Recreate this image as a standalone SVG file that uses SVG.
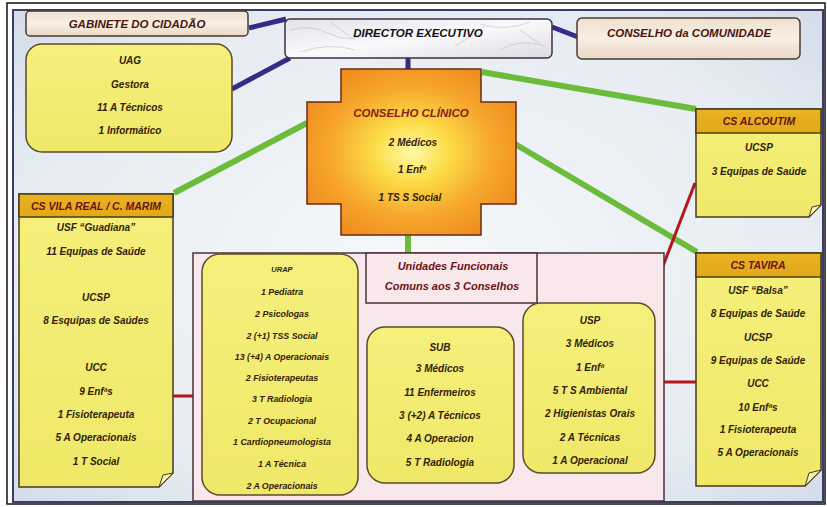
<svg xmlns="http://www.w3.org/2000/svg" width="827" height="507" viewBox="0 0 827 507">
  <style>
    text { font-family: "Liberation Sans", Arial, "DejaVu Sans", sans-serif; font-weight: bold; font-style: italic; text-anchor: middle; }
    .title { font-size: 11.5px; fill: #4a160e; }
    .hdr { font-size: 10.5px; fill: #6b1212; }
    .body { font-size: 10px; fill: #32220c; }
    .small { font-size: 8.8px; fill: #32220c; }
    .note { stroke: #4a3a1a; stroke-width: 1.5; }
    .blue { stroke: #3a2a88; stroke-width: 5; fill: none; }
    .green { stroke: #6cbc3c; stroke-width: 6; fill: none; }
    .red { stroke: #b0181c; stroke-width: 3; fill: none; }
  </style>
  <defs>
    <radialGradient id="panelBg" cx="0.5" cy="0.5" r="0.7">
      <stop offset="0" stop-color="#f6f8fa"/>
      <stop offset="0.7" stop-color="#e6ecf2"/>
      <stop offset="1" stop-color="#d3dde9"/>
    </radialGradient>
    <linearGradient id="beige" x1="0" y1="0" x2="0" y2="1">
      <stop offset="0" stop-color="#efe0cf"/>
      <stop offset="0.5" stop-color="#f8efe4"/>
      <stop offset="1" stop-color="#ead8c4"/>
    </linearGradient>
    <linearGradient id="marble" x1="0" y1="0" x2="1" y2="1">
      <stop offset="0" stop-color="#e4e2e8"/>
      <stop offset="0.5" stop-color="#faf9fb"/>
      <stop offset="1" stop-color="#dddbe2"/>
    </linearGradient>
    <radialGradient id="crossFill" cx="0.5" cy="0.5" r="0.6">
      <stop offset="0" stop-color="#fffaa8"/>
      <stop offset="0.3" stop-color="#fcdc48"/>
      <stop offset="0.65" stop-color="#f6a72c"/>
      <stop offset="1" stop-color="#ef8a1e"/>
    </radialGradient>
    <linearGradient id="noteBody" x1="0" y1="0" x2="0" y2="1">
      <stop offset="0" stop-color="#f5f07c"/>
      <stop offset="1" stop-color="#efe868"/>
    </linearGradient>
    <linearGradient id="noteHead" x1="0" y1="0" x2="0" y2="1">
      <stop offset="0" stop-color="#e8b324"/>
      <stop offset="1" stop-color="#e2a818"/>
    </linearGradient>
    <clipPath id="dirClip">
      <rect x="285" y="19" width="267" height="39" rx="5"/>
    </clipPath>
  </defs>

  <!-- frame -->
  <rect x="7" y="3" width="818" height="501" fill="#ffffff" stroke="#111" stroke-width="1.5"/>
  <rect x="13" y="10" width="810" height="492" fill="url(#panelBg)" stroke="#3c3c68" stroke-width="2"/>

  <!-- connectors -->
  <g id="connectors">
    <line class="blue" x1="249" y1="28" x2="286" y2="19"/>
    <line class="blue" x1="232" y1="89" x2="290" y2="58"/>
    <line class="blue" x1="552" y1="27" x2="578" y2="37"/>
    <line class="blue" x1="408" y1="57" x2="408" y2="70"/>
    <line class="green" x1="482" y1="72" x2="696" y2="109"/>
    <line class="green" x1="307" y1="123" x2="174" y2="193"/>
    <line class="green" x1="515" y1="144" x2="697" y2="252"/>
    <line class="green" x1="408" y1="234" x2="408" y2="254"/>
    <line class="red" x1="695" y1="183" x2="663" y2="266"/>
    <line class="red" x1="168" y1="396" x2="194" y2="396"/>
    <line class="red" x1="663" y1="382" x2="696" y2="382"/>
  </g>

  <!-- top row -->
  <g id="gabinete">
    <rect x="26" y="11" width="222" height="25" rx="4" fill="url(#beige)" stroke="#4a3a30" stroke-width="1.5"/>
    <text class="title" x="137" y="28">GABINETE DO CIDADÃO</text>
  </g>
  <g id="director">
    <rect x="285" y="19" width="267" height="39" rx="5" fill="url(#marble)"/>
    <g clip-path="url(#dirClip)" stroke="#b4b2ba" stroke-width="1" fill="none" opacity="0.5">
      <path d="M290 30 q20 -6 40 4 t40 -2"/>
      <path d="M300 52 q30 -10 55 -2"/>
      <path d="M480 24 q25 8 50 -2"/>
      <path d="M500 50 q20 -12 45 -4"/>
      <path d="M330 22 l25 18"/>
      <path d="M455 46 q15 -8 30 -20"/>
      <path d="M520 30 l20 14"/>
    </g>
    <rect x="285" y="19" width="267" height="39" rx="5" fill="none" stroke="#3a3040" stroke-width="1.5"/>
    <text class="title" x="418" y="37" style="fill:#141018">DIRECTOR EXECUTIVO</text>
  </g>
  <g id="conselho-comunidade">
    <rect x="577" y="18" width="223" height="41" rx="5" fill="url(#beige)" stroke="#4a3a30" stroke-width="1.5"/>
    <text class="title" x="689" y="37">CONSELHO da COMUNIDADE</text>
  </g>

  <g id="uag">
    <rect x="26" y="44" width="206" height="108" rx="16" fill="url(#noteBody)" stroke="#5a4a2a" stroke-width="1.5"/>
    <text class="body" x="130" y="64">UAG</text>
    <text class="body" x="130" y="88">Gestora</text>
    <text class="body" x="130" y="111">11 A Técnicos</text>
    <text class="body" x="130" y="134">1 Informático</text>
  </g>

  <g id="conselho-clinico">
    <path d="M341 69 H481 V102 H516 V204 H481 V235 H341 V204 H307 V102 H341 Z" fill="url(#crossFill)" stroke="#6a2a14" stroke-width="1.5"/>
    <text x="411" y="117" style="font-size:11.5px;fill:#8a1c1c">CONSELHO CLÍNICO</text>
    <text class="body" x="413" y="146">2 Médicos</text>
    <text class="body" x="412" y="173">1 Enfª</text>
    <text class="body" x="410" y="201">1 TS S Social</text>
  </g>

  <g id="cs-alcoutim">
    <path class="note" d="M696 109 H821 V205 L809 217 H696 Z" fill="url(#noteBody)"/>
    <rect class="note" x="696" y="109" width="125" height="24" fill="url(#noteHead)"/>
    <path d="M821 205 L809 217 L812 207 Z" fill="#f8f4b0" stroke="#4a3a1a" stroke-width="1"/>
    <text class="hdr" x="759" y="125">CS ALCOUTIM</text>
    <text class="body" x="759" y="151">UCSP</text>
    <text class="body" x="759" y="175">3 Equipas de Saúde</text>
  </g>

  <g id="cs-vila-real">
    <path class="note" d="M19 194 H173 V473 L159 487 H19 Z" fill="url(#noteBody)"/>
    <rect class="note" x="19" y="194" width="154" height="23" fill="url(#noteHead)"/>
    <path d="M173 473 L159 487 L163 475 Z" fill="#f8f4b0" stroke="#4a3a1a" stroke-width="1"/>
    <text class="hdr" x="96" y="210">CS VILA REAL / C. MARIM</text>
    <text class="body" x="96" y="231">USF “Guadiana”</text>
    <text class="body" x="96" y="255">11 Equipas de Saúde</text>
    <text class="body" x="96" y="301">UCSP</text>
    <text class="body" x="96" y="324">8 Esquipas de Saúdes</text>
    <text class="body" x="96" y="371">UCC</text>
    <text class="body" x="96" y="395">9 Enfªs</text>
    <text class="body" x="96" y="418">1 Fisioterapeuta</text>
    <text class="body" x="96" y="441">5 A Operacionais</text>
    <text class="body" x="96" y="465">1 T Social</text>
  </g>

  <g id="cs-tavira">
    <path class="note" d="M696 253 H821 V470 L805 486 H696 Z" fill="url(#noteBody)"/>
    <rect class="note" x="696" y="253" width="125" height="24" fill="url(#noteHead)"/>
    <path d="M821 470 L805 486 L809 473 Z" fill="#f8f4b0" stroke="#4a3a1a" stroke-width="1"/>
    <text class="hdr" x="758" y="269">CS TAVIRA</text>
    <text class="body" x="758" y="294">USF “Balsa”</text>
    <text class="body" x="758" y="317">8 Equipas de Saúde</text>
    <text class="body" x="758" y="341">UCSP</text>
    <text class="body" x="758" y="364">9 Equipas de Saúde</text>
    <text class="body" x="758" y="387">UCC</text>
    <text class="body" x="758" y="411">10 Enfªs</text>
    <text class="body" x="758" y="433">1 Fisioterapeuta</text>
    <text class="body" x="758" y="456">5 A Operacionais</text>
  </g>

  <g id="unidades-funcionais">
    <rect x="193" y="253" width="471" height="248" fill="#f8e8ec" stroke="#4a3038" stroke-width="1.5"/>
    <rect x="366" y="253" width="171" height="50" fill="#f8e8ec" stroke="#4a3038" stroke-width="1.5"/>
    <text class="hdr" x="453" y="270" style="font-size:11px">Unidades Funcionais</text>
    <text class="hdr" x="452" y="290" style="font-size:11px">Comuns aos 3 Conselhos</text>
  </g>

  <g id="urap">
    <rect x="202" y="254" width="156" height="241" rx="18" fill="url(#noteBody)" stroke="#5a4a2a" stroke-width="1.5"/>
    <text class="small" x="282" y="272" style="font-size:7.5px">URAP</text>
    <text class="small" x="282" y="295">1 Pediatra</text>
    <text class="small" x="282" y="317">2 Psicologas</text>
    <text class="small" x="282" y="339">2 (+1) TSS Social</text>
    <text class="small" x="282" y="360">13 (+4) A Operacionais</text>
    <text class="small" x="282" y="381">2 Fisioterapeutas</text>
    <text class="small" x="282" y="402">3 T Radiologia</text>
    <text class="small" x="282" y="424">2 T Ocupacional</text>
    <text class="small" x="282" y="445">1 Cardiopneumologista</text>
    <text class="small" x="282" y="467">1 A Técnica</text>
    <text class="small" x="282" y="489">2 A Operacionais</text>
  </g>

  <g id="sub">
    <rect x="367" y="327" width="147" height="156" rx="18" fill="url(#noteBody)" stroke="#5a4a2a" stroke-width="1.5"/>
    <text class="body" x="440" y="351">SUB</text>
    <text class="body" x="440" y="372">3  Médicos</text>
    <text class="body" x="440" y="396">11  Enfermeiros</text>
    <text class="body" x="440" y="419">3 (+2) A Técnicos</text>
    <text class="body" x="440" y="442">4  A Operacion</text>
    <text class="body" x="440" y="466">5 T Radiologia</text>
  </g>

  <g id="usp">
    <rect x="523" y="303" width="132" height="170" rx="18" fill="url(#noteBody)" stroke="#5a4a2a" stroke-width="1.5"/>
    <text class="body" x="590" y="324">USP</text>
    <text class="body" x="590" y="347">3 Médicos</text>
    <text class="body" x="590" y="371">1 Enfª</text>
    <text class="body" x="590" y="394">5 T S Ambiental</text>
    <text class="body" x="590" y="417">2 Higienistas Orais</text>
    <text class="body" x="590" y="441">2 A Técnicas</text>
    <text class="body" x="590" y="464">1 A Operacional</text>
  </g>
</svg>
